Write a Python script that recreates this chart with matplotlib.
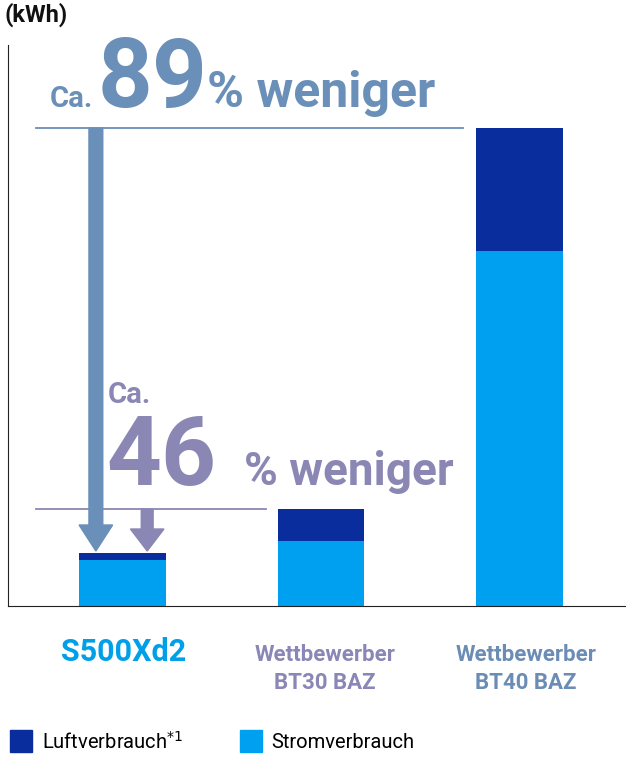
import matplotlib.pyplot as plt

W, H = 626, 758

labels = ["S500Xd2", "Wettbewerber\nBT30 BAZ", "Wettbewerber\nBT40 BAZ"]
strom = [46, 65, 355]       # Stromverbrauch
luft = [7, 32, 123]         # Luftverbrauch
label_colors = ["#00a0e9", "#8a86b5", "#6b8db5"]

DARK = "#0a2d9e"
LIGHT = "#00a0f0"
C89 = "#6a8fb8"
C46 = "#8b87b5"

plt.rcParams["font.family"] = ["Roboto", "DejaVu Sans"]

fig = plt.figure(figsize=(W / 100, H / 100), dpi=100)
ax = fig.add_axes([8 / W, (H - 606) / H, (W - 8) / W, (606 - 45) / H])
ax.set_xlim(-8, W - 8)
ax.set_ylim(0, 561)
for s in ["top", "right"]:
    ax.spines[s].set_visible(False)
ax.spines["left"].set_color("#222222")
ax.spines["bottom"].set_color("#222222")
ax.set_xticks([])
ax.set_yticks([])

xs = [108, 309, 510]
ax.bar(xs, strom, width=88, color=LIGHT)
ax.bar(xs, luft, bottom=strom, width=88, color=DARK)

tot = [a + b for a, b in zip(strom, luft)]
# Bezugslinien
ax.plot([20, 453], [tot[2], tot[2]], color=C89, lw=1.3)
ax.plot([20, 253], [tot[1], tot[1]], color=C46, lw=1.3)
# Pfeile
ax.arrow(81, tot[2], 0, -(tot[2] - tot[0]) + 2, width=14, head_width=34,
         head_length=26, length_includes_head=True, color=C89, zorder=5)
ax.arrow(133, tot[1], 0, -(tot[1] - tot[0]) + 2, width=12, head_width=34,
         head_length=22, length_includes_head=True, color=C46, zorder=5)


def px(x, y):
    return x / W, 1 - y / H


fig.text(*px(50, 107), "Ca.", color=C89, fontsize=21, fontweight="bold", va="baseline")
fig.text(*px(98, 107), "89", color=C89, fontsize=69, fontweight="bold", va="baseline")
fig.text(*px(207, 107), "% weniger", color=C89, fontsize=36, fontweight="bold", va="baseline")
fig.text(*px(108, 403), "Ca.", color=C46, fontsize=21, fontweight="bold", va="baseline")
fig.text(*px(106, 485), "46", color=C46, fontsize=69, fontweight="bold", va="baseline")
fig.text(*px(244, 485), "% weniger", color=C46, fontsize=33, fontweight="bold", va="baseline")

fig.text(*px(4, 22), "(kWh)", fontsize=17, fontweight="bold", va="baseline", color="#111111")

fig.text(*px(124, 652), labels[0], ha="center", va="center", fontsize=22,
         fontweight="bold", color=label_colors[0])
for i in (1, 2):
    fig.text(*px(xs[i] + 16, 669), labels[i], ha="center", va="center", fontsize=16,
             fontweight="bold", color=label_colors[i], linespacing=1.35)

# Legende
fig.patches.append(plt.Rectangle(px(10, 752), 22 / W, 22 / H, color=DARK, transform=fig.transFigure))
fig.text(*px(42, 742), "Luftverbrauch$^{*1}$", fontsize=14.5, va="center")
fig.patches.append(plt.Rectangle(px(240, 752), 22 / W, 22 / H, color=LIGHT, transform=fig.transFigure))
fig.text(*px(271, 742), "Stromverbrauch", fontsize=14.5, va="center")

fig.savefig("out.png", dpi=100)
